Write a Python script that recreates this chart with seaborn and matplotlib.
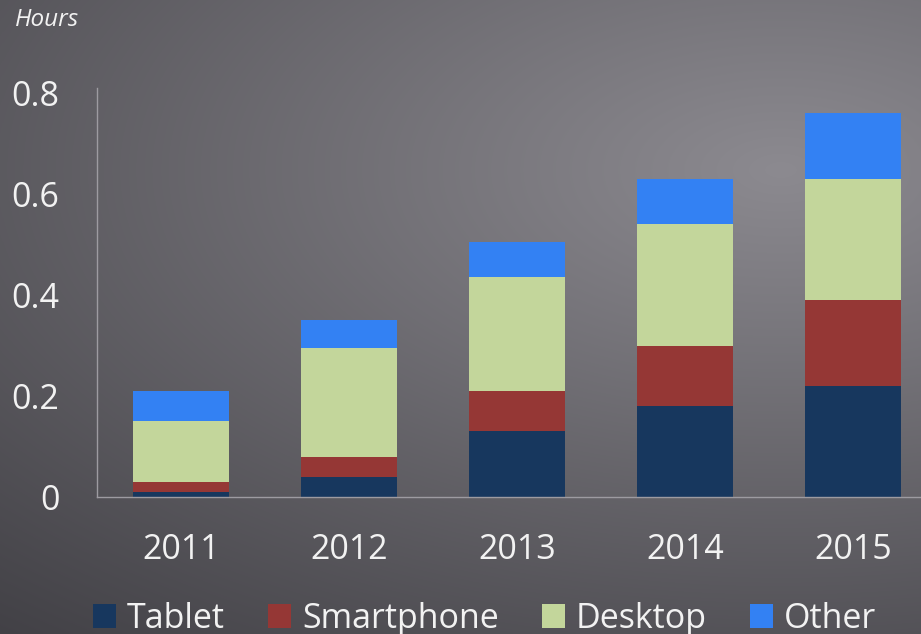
import numpy as np
import pandas as pd
import matplotlib
matplotlib.use("Agg")
import matplotlib.pyplot as plt
from matplotlib.patches import Patch
import seaborn as sns

# Average daily hours spent, by device
years = ["2011", "2012", "2013", "2014", "2015"]
tablet = [0.01, 0.04, 0.13, 0.18, 0.22]
smartphone = [0.02, 0.04, 0.08, 0.12, 0.17]
desktop = [0.12, 0.215, 0.225, 0.24, 0.24]
other = [0.06, 0.055, 0.07, 0.09, 0.13]

series_names = ["Tablet", "Smartphone", "Desktop", "Other"]
series_colors = ["#17375e", "#953735", "#c3d69b", "#3381f3"]
yticks = [0, 0.2, 0.4, 0.6, 0.8]
ytick_labels = ["0", "0.2", "0.4", "0.6", "0.8"]

df = pd.DataFrame({"year": years, "Tablet": tablet, "Smartphone": smartphone,
                   "Desktop": desktop, "Other": other})

sns.set_theme(style="white")
plt.rcParams["font.family"] = ["Open Sans", "DejaVu Sans"]
text_color = "#f2f2f2"

W, H = 921, 634
fig = plt.figure(figsize=(W / 100, H / 100), dpi=100)

# Soft elliptical gradient backdrop, lighter toward the upper right
bg = fig.add_axes([0, 0, 1, 1], zorder=0)
yy, xx = np.mgrid[0:H, 0:W]
dist = np.sqrt(((xx - 780) * 0.062) ** 2 + ((yy - 170) * 0.120) ** 2)
light = np.array([140, 138, 144], dtype=float)
dark = np.array([54, 53, 58], dtype=float)
t = np.clip(dist / 86.0, 0, 1)[..., None]
img = light * (1 - t) + dark * t
bg.imshow(img.astype(np.uint8), aspect="auto", interpolation="bilinear")
bg.set_axis_off()

ax = fig.add_axes([97 / W, (H - 497) / H, (W - 97) / W, (497 - 88) / H], zorder=1)
ax.patch.set_alpha(0)

# Stack by drawing cumulative totals from the top layer downward
cum = df[series_names].cumsum(axis=1)
for name, color in reversed(list(zip(series_names, series_colors))):
    sns.barplot(x=df["year"], y=cum[name], color=color, width=0.567,
                saturation=1, ax=ax, linewidth=0, order=years)

ax.set_xlim(-0.5, -0.5 + (W - 97) / 168.0)
ax.set_ylim(0, 0.81)
ax.set_yticks(yticks)
ax.set_yticklabels(ytick_labels)
ax.set_xlabel("")
ax.set_ylabel("")
ax.tick_params(axis="both", length=0, labelsize=24.5, labelcolor=text_color)
ax.tick_params(axis="y", pad=27)
ax.tick_params(axis="x", pad=26)
for side in ["top", "right"]:
    ax.spines[side].set_visible(False)
for side in ["left", "bottom"]:
    ax.spines[side].set_color("#9d9ba1")
    ax.spines[side].set_linewidth(1.0)

fig.text(15 / W, 1 - 26 / H, "Hours", ha="left", va="baseline",
         fontsize=17.5, style="italic", color=text_color)

handles = [Patch(facecolor=c, edgecolor="none") for c in series_colors]
fig.legend(handles, series_names, loc="center", bbox_to_anchor=(0.526, 0.024),
           ncol=4, frameon=False, fontsize=24.5, handlelength=0.68,
           handleheight=0.68, handletextpad=0.32, columnspacing=1.26,
           labelcolor=text_color, borderpad=0, borderaxespad=0)

fig.savefig("out.png", dpi=100)
